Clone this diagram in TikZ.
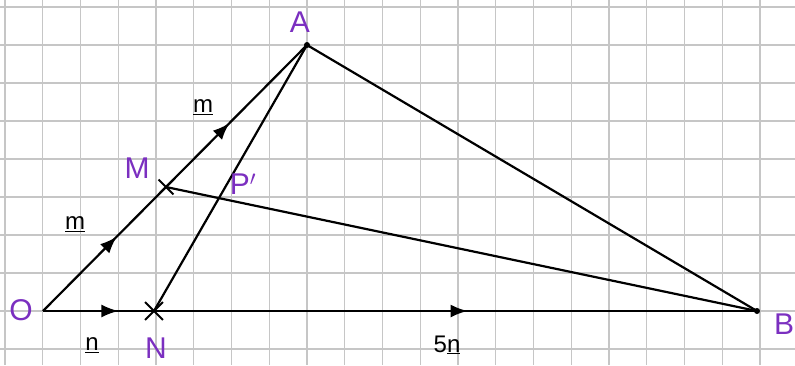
\documentclass[tikz,border=0pt]{standalone}
\usepackage{fontspec}
\setmainfont{Liberation Sans}
\usetikzlibrary{arrows.meta,decorations.markings,shapes.misc}
\definecolor{pen}{HTML}{7B2FC0}
\begin{document}
\begin{tikzpicture}[x=1pt,y=-1pt,
  gridline/.style={draw=gray!45,line width=1.1pt},
  seg/.style={line width=2.2pt,black},
  ptlabel/.style={text=pen,font=\fontsize{30}{30}\selectfont,inner sep=0pt},
  veclabel/.style={text=black,font=\fontsize{24}{24}\selectfont,inner sep=0pt},
  midarrow/.style={postaction={decorate},decoration={markings,mark=at position #1 with {\arrow{Latex[length=17pt,width=13pt]}}}},
  xmark/.style={cross out,draw,line width=1.8pt,minimum size=#1,inner sep=0pt},
  ptdot/.style={circle,fill=black,inner sep=0pt,minimum size=6pt}]
\useasboundingbox (0,0) rectangle (795,365);
\fill[white] (0,0) rectangle (795,365);
% grid
\foreach \k in {0,...,21} \draw[gridline] (5+37.75*\k,0) -- (5+37.75*\k,365);
\foreach \yy in {7,45,83,121,159,197,235,273,311,349} \draw[gridline] (0,\yy) -- (795,\yy);
% points
\coordinate (O) at (43,311);
\coordinate (N) at (154,311);
\coordinate (B) at (757,311);
\coordinate (A) at (307,45);
\coordinate (M) at (166,187);
% segments
\draw[seg,midarrow=0.6] (O) -- (M);
\draw[seg,midarrow=0.45] (M) -- (A);
\draw[seg,midarrow=0.68] (O) -- (N);
\draw[seg,midarrow=0.52] (N) -- (B);
\draw[seg] (N) -- (A);
\draw[seg] (M) -- (B);
\draw[seg] (A) -- (B);
% marks
\node[xmark=13pt] (Mx) at (M) {};
\node[xmark=16pt] (Nx) at (N) {};
\node[ptdot] (Ad) at (A) {};
\node[ptdot] (Bd) at (B) {};
% point labels
\node[ptlabel] (Olab) at (21,310) {O};
\node[ptlabel] (Nlab) at (156,348) {N};
\node[ptlabel] (Mlab) at (137,168) {M};
\node[ptlabel] (Alab) at (300,22) {A};
\node[ptlabel] (Blab) at (784,324) {B};
\node[ptlabel] (Plab) at (243,184) {P$'$};
% vector labels
\node[veclabel] (m1) at (75,224) {\underline{m}};
\node[veclabel] (m2) at (203,107) {\underline{m}};
\node[veclabel] (n1) at (92,345) {\underline{n}};
\node[veclabel] (n5) at (447,345) {5\underline{n}};
\end{tikzpicture}
\end{document}
